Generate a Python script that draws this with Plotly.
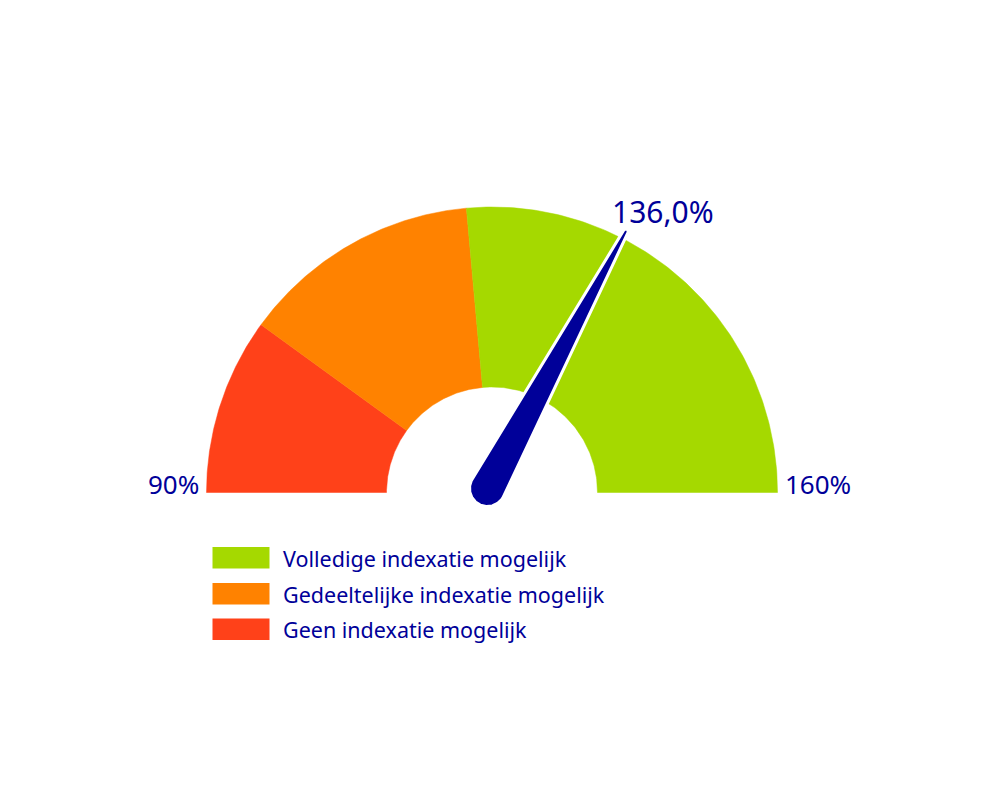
import numpy as np
import plotly.graph_objects as go

# ---- data ----
gauge_min = 90
gauge_max = 160
band_names = ["Geen indexatie mogelijk", "Gedeeltelijke indexatie mogelijk", "Volledige indexatie mogelijk"]
band_starts = [90, 104, 123]
band_ends = [104, 123, 160]
band_colors = ["#FF4119", "#FF8200", "#A5D900"]
needle_value = 136.0
value_label = "136,0%"
min_label = "90%"
max_label = "160%"
legend_order = [2, 1, 0]

TEXT_BLUE = "#000099"
FONT = "Noto Sans"

# ---- geometry (units: outer radius = 1) ----
OFF = 8  # page body margin
PX = 285.5
CXP, CYP = 492 - OFF, 492.5 - OFF
R_OUT = 1.0
R_IN = 105.5 / PX


def ux(p):
    return (p - OFF - CXP) / PX


def uy(p):
    return (CYP - (p - OFF)) / PX


def ang(v):
    return np.pi * (1 - (v - gauge_min) / (gauge_max - gauge_min))


fig = go.Figure()

for name, a, b, col in zip(band_names, band_starts, band_ends, band_colors):
    t = np.linspace(ang(a), ang(b), 120)
    xs = np.concatenate([R_OUT * np.cos(t), R_IN * np.cos(t[::-1])])
    ys = np.concatenate([R_OUT * np.sin(t), R_IN * np.sin(t[::-1])])
    fig.add_trace(go.Scatter(x=np.append(xs, xs[0]), y=np.append(ys, ys[0]), mode="lines",
                             fill="toself", fillcolor=col, line=dict(color=col, width=0.5),
                             name=name, hoverinfo="skip", showlegend=False))

# needle
px0, py0 = ux(487.5), uy(488.5)
d = ang(needle_value)
L = 292 / PX
rb = 18.0 / PX
rt = 2.4 / PX
phi = np.arcsin((rb - rt) / L)
tb = np.linspace(d + np.pi / 2 + phi, d + 3 * np.pi / 2 - phi, 80)
bx = px0 + rb * np.cos(tb)
by = py0 + rb * np.sin(tb)
tx0, ty0 = px0 + L * np.cos(d), py0 + L * np.sin(d)
tt = np.linspace(d - np.pi / 2 + phi, d + np.pi / 2 + phi, 20)
tx = tx0 + rt * np.cos(tt)
ty = ty0 + rt * np.sin(tt)
nx = np.concatenate([bx, tx, bx[:1]])
ny = np.concatenate([by, ty, by[:1]])
fig.add_trace(go.Scatter(x=nx, y=ny, mode="lines", fill="toself", fillcolor=TEXT_BLUE,
                         line=dict(color="white", width=3), hoverinfo="skip", showlegend=False))

# labels
fig.add_annotation(x=ux(663), y=uy(211), text=value_label, showarrow=False,
                   font=dict(family=FONT, size=30, color=TEXT_BLUE), xanchor="center", yanchor="middle")
fig.add_annotation(x=ux(201), y=uy(484), text=min_label, showarrow=False,
                   font=dict(family=FONT, size=26, color=TEXT_BLUE), xanchor="right", yanchor="middle")
fig.add_annotation(x=ux(783), y=uy(484), text=max_label, showarrow=False,
                   font=dict(family=FONT, size=26, color=TEXT_BLUE), xanchor="left", yanchor="middle")

# legend (custom)
row_tops = [547, 583, 618.5]
for row, idx in enumerate(legend_order):
    y0 = row_tops[row] - OFF
    fig.add_shape(type="rect", xref="paper", yref="paper",
                  x0=(212.5 - OFF) / 1000, x1=(269.5 - OFF) / 1000,
                  y0=1 - (y0 + 21.5) / 800, y1=1 - y0 / 800,
                  fillcolor=band_colors[idx], line=dict(width=0))
    fig.add_annotation(xref="paper", yref="paper", x=(281 - OFF) / 1000, y=1 - (y0 + 11) / 800,
                       text=band_names[idx], showarrow=False, xanchor="left", yanchor="middle",
                       font=dict(family=FONT, size=21.5, color=TEXT_BLUE))

fig.update_xaxes(range=[-CXP / PX, (1000 - CXP) / PX], visible=False, fixedrange=True)
fig.update_yaxes(range=[-(800 - CYP) / PX, CYP / PX], visible=False, fixedrange=True)
fig.update_layout(width=1000, height=800, autosize=False, margin=dict(l=0, r=0, t=0, b=0),
                  paper_bgcolor="white", plot_bgcolor="white", showlegend=False)

fig.write_html("out.html")
